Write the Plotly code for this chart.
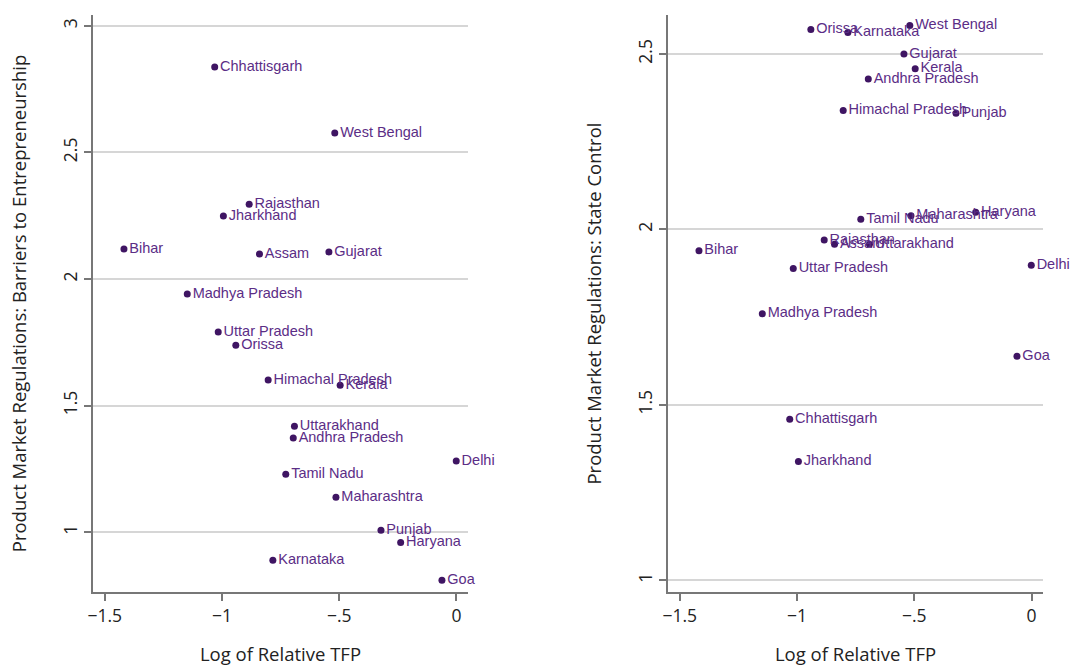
import plotly.graph_objects as go
from plotly.subplots import make_subplots

states = ["Bihar", "Madhya Pradesh", "Chhattisgarh", "Uttar Pradesh", "Jharkhand",
          "Orissa", "Rajasthan", "Assam", "Himachal Pradesh", "Karnataka",
          "Tamil Nadu", "Uttarakhand", "Andhra Pradesh", "Gujarat", "West Bengal",
          "Maharashtra", "Kerala", "Punjab", "Haryana", "Goa", "Delhi"]
log_tfp = [-1.418, -1.148, -1.031, -1.016, -0.994,
           -0.941, -0.884, -0.840, -0.803, -0.783,
           -0.728, -0.691, -0.696, -0.544, -0.519,
           -0.514, -0.496, -0.322, -0.238, -0.062, -0.001]
barriers = [2.119, 1.941, 2.838, 1.791, 2.249,
            1.739, 2.296, 2.099, 1.601, 0.889,
            1.229, 1.419, 1.372, 2.107, 2.577,
            1.138, 1.581, 1.008, 0.960, 0.810, 1.281]
state_control = [1.939, 1.760, 1.459, 1.889, 1.339,
                 2.570, 1.970, 1.958, 2.339, 2.561,
                 2.029, 1.958, 2.429, 2.500, 2.581,
                 2.039, 2.458, 2.331, 2.049, 1.639, 1.898]

x_tickvals = [-1.5, -1, -0.5, 0]
x_ticktext = ["\u22121.5", "\u22121", "\u2212.5", "0"]
y1_tickvals = [1, 1.5, 2, 2.5, 3]
y1_ticktext = ["1", "1.5", "2", "2.5", "3"]
y2_tickvals = [1, 1.5, 2, 2.5]
y2_ticktext = ["1", "1.5", "2", "2.5"]

marker_color = "#3f1563"
text_color = "#5b2d86"
axis_color = "#777777"
grid_color = "#d6d6d6"
axis_font = "Open Sans"
title_color = "#222222"

fig = make_subplots(rows=1, cols=2, horizontal_spacing=0.2105)

for col, yvals in [(1, barriers), (2, state_control)]:
    fig.add_trace(go.Scatter(
        x=log_tfp, y=yvals, text=states, mode="markers+text",
        textposition="middle right",
        marker=dict(color=marker_color, size=7),
        textfont=dict(family="Liberation Sans, Arial", size=14.5, color=text_color),
        showlegend=False, cliponaxis=False,
    ), row=1, col=col)

xcommon = dict(
    range=[-1.55, 0.049], tickvals=x_tickvals, ticktext=x_ticktext,
    showgrid=False, zeroline=False, showline=True, linecolor=axis_color, linewidth=2,
    ticks="outside", ticklen=7, tickwidth=2, tickcolor=axis_color,
    tickfont=dict(family=axis_font, size=17.5, color=title_color),
    automargin=False,
    title=dict(text="Log of Relative TFP", standoff=29,
               font=dict(family=axis_font, size=18.5, color=title_color)),
)
fig.update_xaxes(**xcommon, domain=[0, 0.3947], row=1, col=1)
fig.update_xaxes(**xcommon, domain=[0.6053, 1], row=1, col=2)

ycommon = dict(
    showgrid=True, gridcolor=grid_color, gridwidth=2, zeroline=False,
    showline=True, linecolor=axis_color, linewidth=2,
    ticks="outside", ticklen=7, tickwidth=2, tickcolor=axis_color,
    tickangle=-90, automargin=False,
    tickfont=dict(family=axis_font, size=17.5, color=title_color),
)
fig.update_yaxes(**ycommon, range=[0.764, 3.043], tickvals=y1_tickvals, ticktext=y1_ticktext,
                 title=dict(text="Product Market Regulations: Barriers to Entrepreneurship",
                            standoff=27, font=dict(family=axis_font, size=18.5, color=title_color)),
                 row=1, col=1)
fig.update_yaxes(**ycommon, range=[0.967, 2.611], tickvals=y2_tickvals, ticktext=y2_ticktext,
                 title=dict(text="Product Market Regulations: State Control",
                            standoff=27, font=dict(family=axis_font, size=18.5, color=title_color)),
                 row=1, col=2)

fig.update_layout(
    width=1072, height=666,
    margin=dict(l=93, r=29, t=15, b=74, autoexpand=False),
    plot_bgcolor="white", paper_bgcolor="white",
    hovermode=False,
)

fig.write_html("out.html",
               config={"displayModeBar": False, "staticPlot": True},
               post_script="document.body.style.margin='0';document.body.style.padding='0';")
